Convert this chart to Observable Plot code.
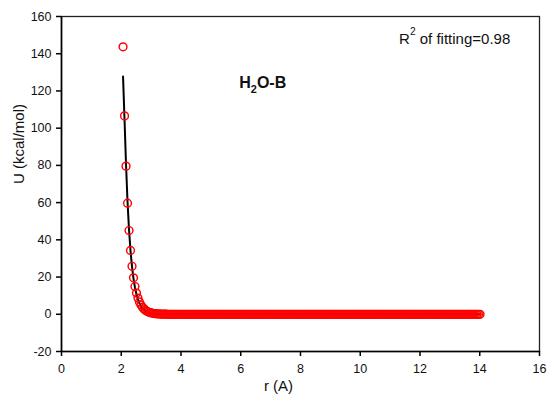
<!DOCTYPE html>
<html>
<head>
<meta charset="utf-8">
<script src="https://cdn.jsdelivr.net/npm/d3@7"></script>
<script src="https://cdn.jsdelivr.net/npm/@observablehq/plot@0.6"></script>
<style>
  html, body { margin: 0; padding: 0; background: #fff; }
  #chart svg { display: block; }
</style>
</head>
<body>
<div id="chart"></div>
<script>
// Sampled distances r (Å) of the computed points
const rPoints = [
  2.06,2.11,2.16,2.21,2.26,2.31,2.36,2.41,2.46,2.51,2.56,2.61,2.66,2.71,2.76,2.81,2.86,2.91,2.96,
  3.01,3.06,3.11,3.16,3.21,3.26,3.31,3.36,3.41,3.46,3.51,3.56,3.61,3.66,3.71,3.76,3.81,3.86,3.91,3.96,
  4.01,4.06,4.11,4.16,4.21,4.26,4.31,4.36,4.41,4.46,4.51,4.56,4.61,4.66,4.71,4.76,4.81,4.86,4.91,4.96,
  5.01,5.06,5.11,5.16,5.21,5.26,5.31,5.36,5.41,5.46,5.51,5.56,5.61,5.66,5.71,5.76,5.81,5.86,5.91,5.96,
  6.01,6.06,6.11,6.16,6.21,6.26,6.31,6.36,6.41,6.46,6.51,6.56,6.61,6.66,6.71,6.76,6.81,6.86,6.91,6.96,
  7.01,7.06,7.11,7.16,7.21,7.26,7.31,7.36,7.41,7.46,7.51,7.56,7.61,7.66,7.71,7.76,7.81,7.86,7.91,7.96,
  8.01,8.06,8.11,8.16,8.21,8.26,8.31,8.36,8.41,8.46,8.51,8.56,8.61,8.66,8.71,8.76,8.81,8.86,8.91,8.96,
  9.01,9.06,9.11,9.16,9.21,9.26,9.31,9.36,9.41,9.46,9.51,9.56,9.61,9.66,9.71,9.76,9.81,9.86,9.91,9.96,
  10.01,10.06,10.11,10.16,10.21,10.26,10.31,10.36,10.41,10.46,10.51,10.56,10.61,10.66,10.71,10.76,10.81,10.86,10.91,10.96,
  11.01,11.06,11.11,11.16,11.21,11.26,11.31,11.36,11.41,11.46,11.51,11.56,11.61,11.66,11.71,11.76,11.81,11.86,11.91,11.96,
  12.01,12.06,12.11,12.16,12.21,12.26,12.31,12.36,12.41,12.46,12.51,12.56,12.61,12.66,12.71,12.76,12.81,12.86,12.91,12.96,
  13.01,13.06,13.11,13.16,13.21,13.26,13.31,13.36,13.41,13.46,13.51,13.56,13.61,13.66,13.71,13.76,13.81,13.86,13.91,13.96,
  14.01
];
// Computed energies U (kcal/mol) at those distances
const uPoints = [
  143.7,106.6,79.6,59.7,45.0,34.3,25.8,19.6,14.9,11.4,8.7,6.6,5.0,3.8,2.9,2.2,1.6,1.2,0.9,
  0.7,0.5,0.4,0.3,0.2,0.15,0.1,0.08,0.06,0.04,0.03,0,0,0,0,0,0,0,0,0,
  0,0,0,0,0,0,0,0,0,0,0,0,0,0,0,0,0,0,0,0,
  0,0,0,0,0,0,0,0,0,0,0,0,0,0,0,0,0,0,0,0,
  0,0,0,0,0,0,0,0,0,0,0,0,0,0,0,0,0,0,0,0,
  0,0,0,0,0,0,0,0,0,0,0,0,0,0,0,0,0,0,0,0,
  0,0,0,0,0,0,0,0,0,0,0,0,0,0,0,0,0,0,0,0,
  0,0,0,0,0,0,0,0,0,0,0,0,0,0,0,0,0,0,0,0,
  0,0,0,0,0,0,0,0,0,0,0,0,0,0,0,0,0,0,0,0,
  0,0,0,0,0,0,0,0,0,0,0,0,0,0,0,0,0,0,0,0,
  0,0,0,0,0,0,0,0,0,0,0,0,0,0,0,0,0,0,0,0,
  0,0,0,0,0,0,0,0,0,0,0,0,0,0,0,0,0,0,0,0,
  0
];
// Fitted curve
const rFit = [2.06,2.11,2.16,2.21,2.26,2.31,2.36,2.41,2.46,2.51,2.56,2.61,2.66,2.71,2.76,2.81,2.86,2.91,2.96,3.01,3.06,3.11,3.16,3.21,3.26,14.01];
const uFit = [127.8,104.5,80.5,60.5,45.5,34.2,25.6,19.2,14.3,10.7,8.0,5.9,4.4,3.3,2.4,1.8,1.3,1.0,0.7,0.5,0.35,0.25,0.18,0.12,0.08,0];

const xTicks = [0,2,4,6,8,10,12,14,16];
const yTicks = [-20,0,20,40,60,80,100,120,140,160];
const xLabel = "r (A)";
const yLabel = "U (kcal/mol)";
const fitNote = ["R", "2", " of fitting=0.98"];   // base, superscript, rest
const seriesName = ["H", "2", "O-B"];              // base, subscript, rest

const points = rPoints.map((r, i) => ({r, u: uPoints[i]}));
const fit = rFit.map((r, i) => ({r, u: uFit[i]}));

const font = "'Liberation Sans', Arial, Helvetica, sans-serif";

const chart = Plot.plot({
  width: 554,
  height: 405,
  marginLeft: 61,
  marginRight: 15,
  marginTop: 16,
  marginBottom: 54,
  style: {fontFamily: font, fontSize: "12.5px", color: "#000", background: "#fff"},
  x: {domain: [0, 16]},
  y: {domain: [-20, 160]},
  marks: [
    Plot.frame({stroke: "#222", strokeWidth: 1.3}),
    Plot.axisX({ticks: xTicks, tickFormat: d => String(d), tickSize: 5, tickPadding: 8, label: null, stroke: "#000", strokeWidth: 1.5, fill: "#111"}),
    Plot.axisY({ticks: yTicks, tickFormat: d => String(d), tickSize: 5, tickPadding: 5, label: null, stroke: "#000", strokeWidth: 1.5, fill: "#111"}),
    Plot.ruleX([0], {stroke: "#000", strokeWidth: 1.6}),
    Plot.ruleY([-20], {stroke: "#000", strokeWidth: 1.6}),
    Plot.line(fit, {x: "r", y: "u", stroke: "#000", strokeWidth: 2}),
    Plot.dot(points, {x: "r", y: "u", r: 3.9, stroke: "#ff0000", strokeWidth: 1.45, fill: "none"}),
    Plot.text([xLabel], {frameAnchor: "bottom", dx: -22, dy: 39, fontSize: 15, fill: "#111"}),
    Plot.text([yLabel], {frameAnchor: "left", dx: -42, rotate: -90, fontSize: 15, fill: "#111"}),
    Plot.text([fitNote.join("")], {x: 11.3, y: 148, textAnchor: "start", fontSize: 15, fill: "#111", className: "fit-note"}),
    Plot.text([seriesName.join("")], {x: 5.95, y: 124.5, textAnchor: "start", fontSize: 16, fontWeight: "bold", fill: "#111", className: "series-name"})
  ]
});

// Rebuild the two annotations with true super/subscripts
function scriptText(sel, parts, shift, size) {
  const t = d3.select(chart).select(sel + " text");
  t.text(null);
  t.append("tspan").text(parts[0]);
  t.append("tspan").attr("font-size", size).attr("dy", shift).text(parts[1]);
  t.append("tspan").attr("dy", -parseFloat(shift) * parseFloat(size) + "em").text(parts[2]);
}
scriptText(".fit-note", fitNote, "-0.8em", "0.68em");
scriptText(".series-name", seriesName, "0.5em", "0.68em");

document.getElementById("chart").appendChild(chart);
</script>
</body>
</html>
